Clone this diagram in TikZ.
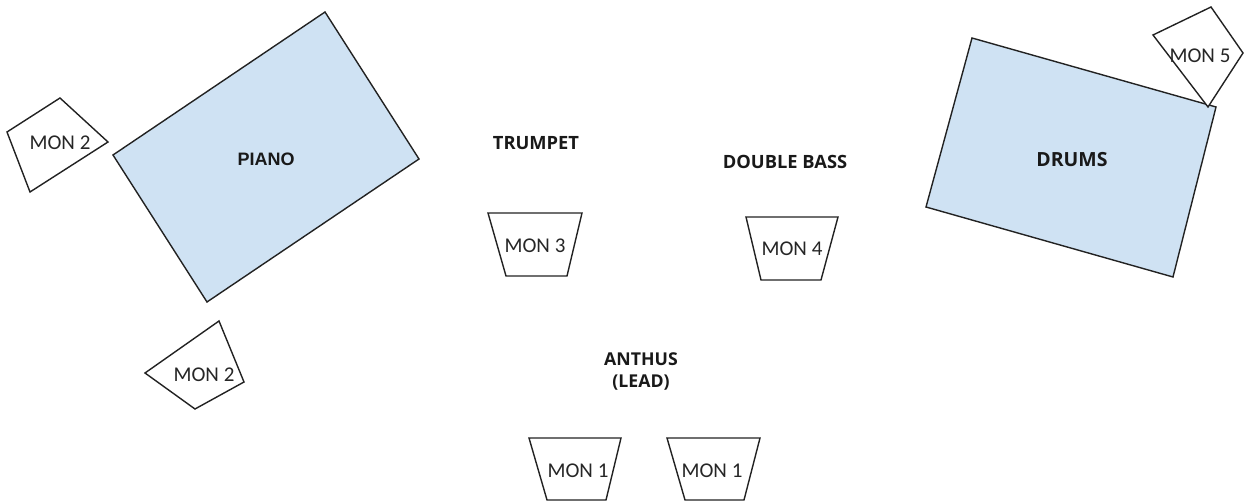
\documentclass[tikz,border=0pt]{standalone}
\usepackage{fontspec}
\setmainfont{Open Sans}
\newfontfamily\monfont{Carlito}
\newfontfamily\pianofont{Liberation Sans}
\definecolor{instfill}{HTML}{CFE2F3}
\definecolor{linec}{HTML}{222222}
\tikzset{
  inst/.style={draw=linec, fill=instfill, line width=1.4pt, line join=miter},
  mon/.style={draw=linec, fill=white, line width=1.4pt, line join=miter},
  monlabel/.style={font=\monfont\fontsize{21}{24}\selectfont, text=black!85, inner sep=0pt},
  biglabel/.style={font=\fontsize{18.3}{22}\selectfont\bfseries, text=black!90, inner sep=0pt, align=center},
}
\begin{document}
\begin{tikzpicture}[x=1pt,y=-1pt]
\useasboundingbox (0,0) rectangle (1245,502);
% Piano
\draw[inst] (325,12) -- (419,159) -- (207,302) -- (113,155) -- cycle;
\node[biglabel, font=\pianofont\fontsize{18}{20}\selectfont\bfseries] (piano) at (266,159) {PIANO};
% Drums
\draw[inst] (972,38) -- (1216,107) -- (1173,277) -- (926,207) -- cycle;
\node[biglabel, font=\fontsize{19.5}{22}\selectfont\bfseries] (drums) at (1072,160) {DRUMS};
% MON 5
\draw[mon] (1153,35) -- (1211,7) -- (1243,53) -- (1208,107) -- cycle;
\node[monlabel] (mon5) at (1200,56) {MON 5};
% MON 2 top
\draw[mon] (7,132) -- (60,98) -- (108,142) -- (30,192) -- cycle;
\node[monlabel] (mon2a) at (60,143) {MON 2};
% MON 2 bottom
\draw[mon] (219,321) -- (244,382) -- (195,409) -- (145,373) -- cycle;
\node[monlabel] (mon2b) at (204,375) {MON 2};
% MON 3
\draw[mon] (488,213) -- (582,213) -- (567,276) -- (506,276) -- cycle;
\node[monlabel] (mon3) at (535,246) {MON 3};
% MON 4
\draw[mon] (746,217) -- (838,217) -- (821,280) -- (761,280) -- cycle;
\node[monlabel] (mon4) at (792,249) {MON 4};
% MON 1 left
\draw[mon] (529,438) -- (621,438) -- (606,500) -- (547,500) -- cycle;
\node[monlabel] (mon1a) at (578,471) {MON 1};
% MON 1 right
\draw[mon] (667,438) -- (760,438) -- (744,500) -- (685,500) -- cycle;
\node[monlabel] (mon1b) at (712,471) {MON 1};
% Labels
\node[biglabel] (trumpet) at (536,143) {TRUMPET};
\node[biglabel] (bass) at (785,162) {DOUBLE BASS};
\node[biglabel, font=\fontsize{17.7}{22}\selectfont\bfseries] (anthus) at (641,371) {ANTHUS\\(LEAD)};
\end{tikzpicture}
\end{document}
